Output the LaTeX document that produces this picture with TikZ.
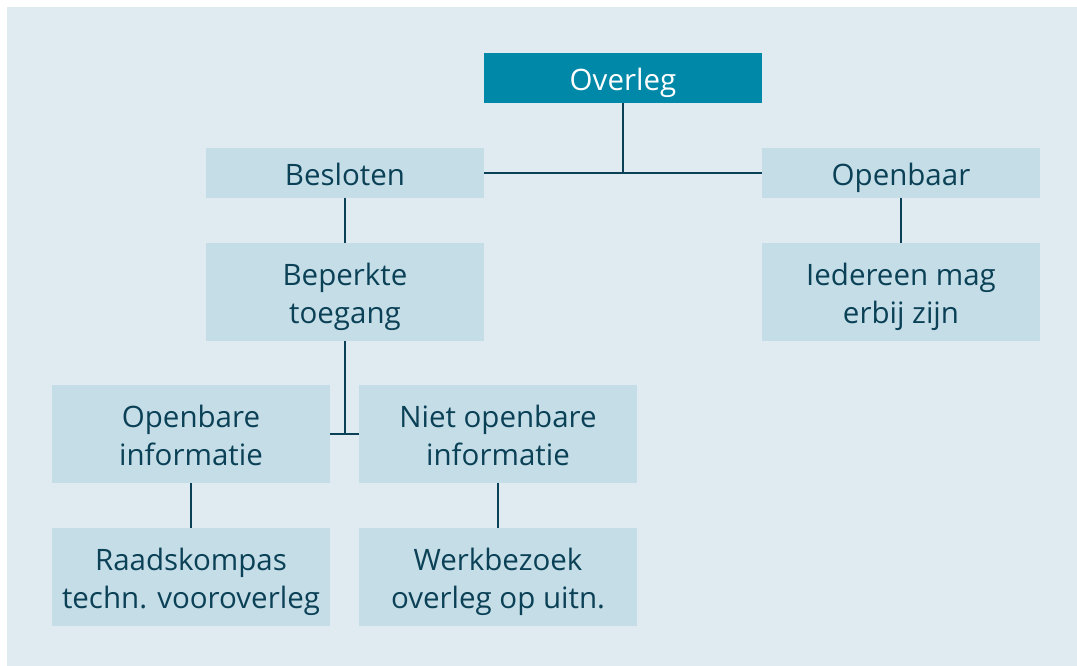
\documentclass[tikz,border=0pt]{standalone}
\usepackage{fontspec}
\setmainfont{Open Sans}
\definecolor{bgc}{HTML}{DFEBF1}
\definecolor{boxc}{HTML}{C5DDE7}
\definecolor{topc}{HTML}{0088A8}
\definecolor{ink}{HTML}{0B4156}
\begin{document}
\begin{tikzpicture}[x=1pt,y=-1pt,
  box/.style={fill=boxc,text=ink,align=center,minimum width=278pt,inner sep=0pt,
    text depth=6pt,font=\fontsize{29.5}{38.3}\selectfont},
  onebox/.style={box,minimum height=50pt,text height=31pt},
  twobox/.style={box,minimum height=98pt,text height=69.3pt},
  link/.style={draw=ink,line width=2.2pt}]
\useasboundingbox (0,0) rectangle (1077,666);
\fill[white] (0,0) rectangle (1077,666);
\fill[bgc] (7,7) rectangle (1077,666);
\node[onebox,fill=topc,text=white] (overleg) at (623,78) {Overleg};
\node[onebox] (besloten) at (345,173) {Besloten};
\node[onebox] (openbaar) at (901,173) {Openbaar};
\node[twobox] (beperkt) at (345,292) {Beperkte\\toegang};
\node[twobox] (iedereen) at (901,292) {Iedereen mag\\erbij zijn};
\node[twobox] (openinfo) at (191,434) {Openbare\\informatie};
\node[twobox] (nietinfo) at (498,434) {Niet openbare\\informatie};
\node[twobox] (raad) at (191,577) {Raadskompas\\techn. vooroverleg};
\node[twobox] (werk) at (498,577) {Werkbezoek\\overleg op uitn.};
\coordinate (j1) at (overleg.south |- besloten.east);
\draw[link] (overleg.south) -- (j1);
\draw[link] (besloten.east) -- (openbaar.west);
\draw[link] (besloten.south) -- (beperkt.north);
\draw[link] (openbaar.south) -- (iedereen.north);
\coordinate (j2) at (beperkt.south |- openinfo.east);
\draw[link] (beperkt.south) -- (j2);
\draw[link] (openinfo.east) -- (nietinfo.west);
\draw[link] (openinfo.south) -- (raad.north);
\draw[link] (nietinfo.south) -- (werk.north);
\end{tikzpicture}
\end{document}
